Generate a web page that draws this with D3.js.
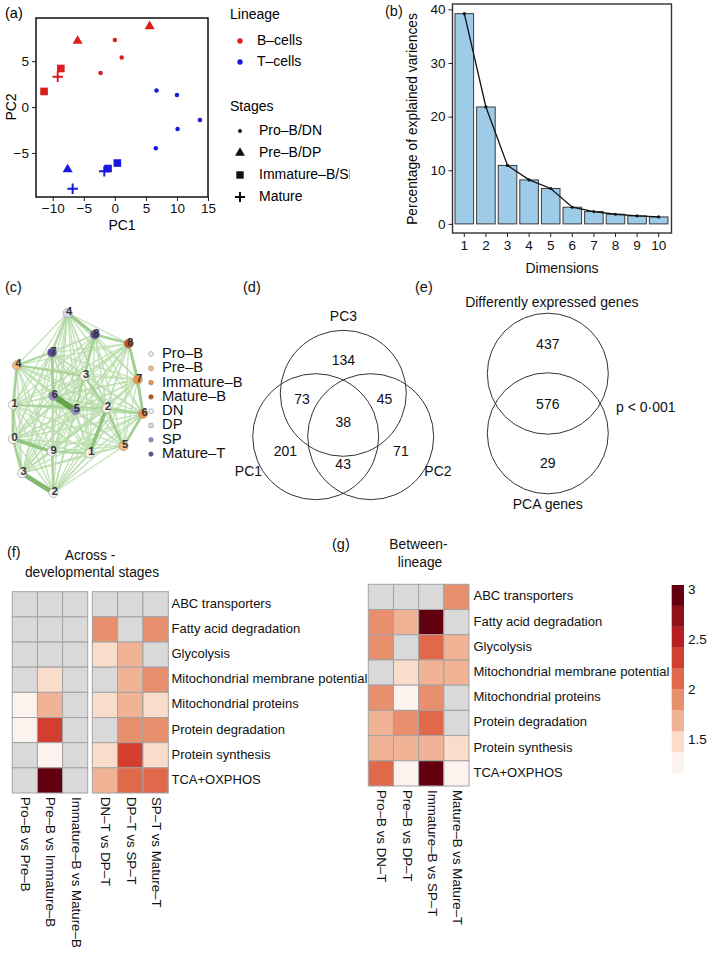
<!DOCTYPE html>
<html lang="en">
<head>
<meta charset="UTF-8">
<title>PCA, network, Venn diagrams and pathway heatmaps</title>
<script src="https://d3js.org/d3.v7.min.js"></script>
<style>
  body { margin: 0; background: #fff; }
  svg { display: block; font-family: "Liberation Sans", Arial, sans-serif; }
</style>
</head>
<body>
<svg id="fig" width="709" height="953"></svg>
<script>
// ---------- data ----------
// (a) PCA scores of the 18 samples
const pc1 = [-6.0, 5.6, 0.0, 1.1, -2.3, -8.7, -9.2, -11.4, 6.7, 10.0, 13.7, 10.1, 6.6, 0.4, -1.1, -1.7, -7.6, -6.8];
const pc2 = [7.2, 8.8, 7.3, 5.4, 3.7, 4.2, 3.3, 1.7, 1.8, 1.3, -1.4, -2.4, -4.5, -6.1, -6.7, -7.0, -6.8, -8.9];
const sampleLineage = ["B", "B", "B", "B", "B", "B", "B", "B", "T", "T", "T", "T", "T", "T", "T", "T", "T", "T"];
const sampleStage = ["Pre", "Pre", "Pro", "Pro", "Pro", "Imm", "Mat", "Imm", "Pro", "Pro", "Pro", "Pro", "Pro", "Imm", "Imm", "Mat", "Pre", "Mat"];
const pcaXTicks = [-10, -5, 0, 5, 10, 15];
const pcaYTicks = [-5, 0, 5];
const lineageNames = ["B–cells", "T–cells"];
const stageKeys = ["Pro", "Pre", "Imm", "Mat"];
const stageNames = ["Pro–B/DN", "Pre–B/DP", "Immature–B/SP", "Mature"];

// (b) scree plot
const dims = ["1", "2", "3", "4", "5", "6", "7", "8", "9", "10"];
const explained = [39.2, 21.8, 10.9, 8.2, 6.6, 3.1, 2.3, 1.8, 1.5, 1.3];
const screeTicks = [0, 10, 20, 30, 40];

// (c) correlation network (layout coordinates in 0..1)
const netLabel = ["4", "8", "8", "7", "4", "3", "7", "1", "6", "5", "2", "6", "0", "9", "1", "5", "3", "2"];
const netGroup = ["DP", "Mature–T", "Mature–B", "Mature–T", "Pre–B", "Pro–B", "Immature–B", "DN", "SP", "SP", "Pro–B", "Immature–B", "DN", "DN", "Pro–B", "Pre–B", "DN", "DN"];
const netX = [0.42, 0.63, 0.89, 0.30, 0.03, 0.55, 0.96, 0.00, 0.31, 0.48, 0.72, 1.00, 0.00, 0.30, 0.59, 0.85, 0.07, 0.31];
const netY = [0.00, 0.12, 0.17, 0.22, 0.29, 0.35, 0.37, 0.51, 0.46, 0.54, 0.53, 0.56, 0.70, 0.77, 0.78, 0.74, 0.89, 1.00];
const strongEdges = [
  [8, 9, 1.0], [16, 17, 0.75], [12, 13, 0.55], [10, 14, 0.55], [0, 1, 0.45],
  [1, 2, 0.35], [2, 6, 0.4], [6, 11, 0.4], [11, 15, 0.4], [15, 10, 0.35],
  [5, 10, 0.35], [3, 8, 0.35], [4, 7, 0.35], [7, 12, 0.4], [12, 16, 0.4],
  [13, 14, 0.3], [13, 17, 0.3], [4, 5, 0.3], [7, 10, 0.3], [1, 5, 0.3],
  [10, 11, 0.3], [1, 9, 0.3], [0, 3, 0.25], [3, 4, 0.25], [14, 17, 0.2]
];
const weakEdgeWeight = 0.12;
const netGroups = ["Pro–B", "Pre–B", "Immature–B", "Mature–B", "DN", "DP", "SP", "Mature–T"];
const netColors = ["#f6efe2", "#f3bb80", "#ec9443", "#c64f1c", "#f4f3f8", "#d8d7ea", "#8f8bc2", "#574a9b"];

// (d) Venn of PCA genes
const vennSets = ["PC1", "PC2", "PC3"];
const vennOnly = [201, 71, 134];
const vennPairs = [["PC1", "PC2", 43], ["PC1", "PC3", 73], ["PC2", "PC3", 45]];
const vennAll = 38;

// (e) Venn DE vs PCA genes
const deSets = ["Differently expressed genes", "PCA genes"];
const deCounts = [437, 576, 29];
const dePvalue = "p < 0·001";

// (f), (g) pathway heatmaps
const pathways = ["ABC transporters", "Fatty acid degradation", "Glycolysis", "Mitochondrial membrane potential",
  "Mitochondrial proteins", "Protein degradation", "Protein synthesis", "TCA+OXPHOS"];
const acrossBCols = ["Pro–B vs Pre–B", "Pre–B vs Immature–B", "Immature–B vs Mature–B"];
const acrossTCols = ["DN–T vs DP–T", "DP–T vs SP–T", "SP–T vs Mature–T"];
const betweenCols = ["Pro–B vs DN–T", "Pre–B vs DP–T", "Immature–B vs SP–T", "Mature–B vs Mature–T"];
const acrossBValues = [
  [null, null, null], [null, null, null], [null, null, null], [null, 1.48, null],
  [1.27, 1.70, null], [1.28, 2.33, null], [null, 1.26, null], [null, 2.98, null]
];
const acrossTValues = [
  [null, null, null], [1.92, null, 1.90], [1.49, 1.71, null], [null, 1.70, 1.93],
  [1.47, 1.69, 1.46], [null, 1.91, 1.89], [1.49, 2.34, 1.47], [1.72, 2.13, 2.12]
];
const betweenValues = [
  [null, null, null, 1.92], [1.91, 1.69, 2.97, null], [1.93, null, 2.14, 1.70], [null, 1.48, 1.71, 1.72],
  [1.90, 1.25, 1.91, null], [1.71, 1.92, 2.13, null], [1.70, 1.69, 1.71, 1.49], [2.12, 1.26, 2.99, 1.27]
];
const heatRange = [1.174, 3.057];
const heatColors = ["#fdf3ee", "#fadcca", "#f1b396", "#e88f6d", "#e0694c", "#d23f2e", "#b71e22", "#911016", "#620010"];
const heatTicks = [1.5, 2, 2.5, 3];
const naColor = "#d9d9d9";

// ---------- drawing ----------
const svg = d3.select("#fig");
svg.append("rect").attr("width", 709).attr("height", 953).attr("fill", "#fff");

function label(txt, x, y, size, anchor) {
  return svg.append("text").attr("x", x).attr("y", y).attr("font-size", size)
    .attr("text-anchor", anchor || "start").attr("dominant-baseline", "middle").attr("fill", "#111").text(txt);
}
function styleAxis(g, size) {
  g.attr("font-size", size).attr("font-family", null);
  g.select(".domain").remove();
  g.selectAll("line").attr("stroke", "#222");
  g.selectAll("text").attr("fill", "#111");
}

// ----- (a) -----
svg.append("clipPath").attr("id", "clipA").append("rect").attr("x", 0).attr("y", 0).attr("width", 350).attr("height", 250);
const gA = svg.append("g").attr("clip-path", "url(#clipA)");
const xA = d3.scaleLinear().domain([-12.7, 15.0]).range([36, 208]);
const yA = d3.scaleLinear().domain([-9.8, 9.7]).range([197, 18]);
const lineageColor = d3.scaleOrdinal().domain(["B", "T"]).range(["#dd1c1c", "#1818e2"]);
const plusType = {
  draw(ctx, size) {
    const r = Math.sqrt(size) / 2;
    ctx.moveTo(-r, 0); ctx.lineTo(r, 0);
    ctx.moveTo(0, -r); ctx.lineTo(0, r);
  }
};
const stageShape = d3.scaleOrdinal().domain(stageKeys).range([d3.symbolCircle, d3.symbolTriangle, d3.symbolSquare, plusType]);
const stageSize = d3.scaleOrdinal().domain(stageKeys).range([16, 44, 58, 110]);

gA.append("text").attr("x", 5).attr("y", 14).attr("font-size", 14.5).attr("dominant-baseline", "middle").text("(a)");
gA.append("g").attr("transform", "translate(0,197)")
  .call(d3.axisBottom(xA).tickValues(pcaXTicks).tickSize(4).tickPadding(2))
  .call(g => styleAxis(g, 13.5));
gA.append("g").attr("transform", "translate(36,0)")
  .call(d3.axisLeft(yA).tickValues(pcaYTicks).tickSize(4).tickPadding(3))
  .call(g => styleAxis(g, 13.5));
gA.append("rect").attr("x", 36).attr("y", 18).attr("width", 172).attr("height", 179)
  .attr("fill", "none").attr("stroke", "#111").attr("stroke-width", 1.5);
gA.append("text").attr("transform", "translate(12,107) rotate(-90)").attr("text-anchor", "middle")
  .attr("dominant-baseline", "middle").attr("font-size", 14).text("PC2");
gA.append("text").attr("x", 122).attr("y", 226).attr("text-anchor", "middle")
  .attr("dominant-baseline", "middle").attr("font-size", 14).text("PC1");

gA.selectAll("path.pt").data(pc1.map((v, i) => i)).join("path").attr("class", "pt")
  .attr("transform", i => `translate(${xA(pc1[i])},${yA(pc2[i])})`)
  .attr("d", i => d3.symbol().type(stageShape(sampleStage[i])).size(stageSize(sampleStage[i]))())
  .attr("fill", i => sampleStage[i] === "Mat" ? "none" : lineageColor(sampleLineage[i]))
  .attr("stroke", i => sampleStage[i] === "Mat" ? lineageColor(sampleLineage[i]) : "none")
  .attr("stroke-width", 2);

// legend (a)
gA.append("text").attr("x", 230).attr("y", 15).attr("font-size", 14).attr("dominant-baseline", "middle").text("Lineage");
["B", "T"].forEach((k, i) => {
  const y = 41 + i * 21;
  gA.append("circle").attr("cx", 240).attr("cy", y).attr("r", 2.7).attr("fill", lineageColor(k));
  gA.append("text").attr("x", 257).attr("y", y).attr("font-size", 14).attr("dominant-baseline", "middle").text(lineageNames[i]);
});
gA.append("text").attr("x", 230).attr("y", 107).attr("font-size", 14).attr("dominant-baseline", "middle").text("Stages");
stageKeys.forEach((k, i) => {
  const y = 131 + i * 22;
  gA.append("path").attr("transform", `translate(240,${y})`)
    .attr("d", d3.symbol().type(stageShape(k)).size(k === "Pro" ? 12 : stageSize(k) * 0.95)())
    .attr("fill", k === "Mat" ? "none" : "#111").attr("stroke", k === "Mat" ? "#111" : "none").attr("stroke-width", 2);
  gA.append("text").attr("x", 259).attr("y", y).attr("font-size", 14).attr("dominant-baseline", "middle").text(stageNames[i]);
});

// ----- (b) -----
label("(b)", 385, 12, 14.5);
const xB = d3.scaleBand().domain(dims).range([452, 671]).padding(0.14);
const yB = d3.scaleLinear().domain([-1.7, 41]).range([233, 4]);
svg.append("g").selectAll("rect").data(dims).join("rect")
  .attr("x", d => xB(d)).attr("width", xB.bandwidth())
  .attr("y", (d, i) => yB(explained[i])).attr("height", (d, i) => yB(0) - yB(explained[i]))
  .attr("fill", "#9ecbe8").attr("stroke", "#3a3a3a").attr("stroke-width", 1);
const screeLine = d3.line().x((v, i) => xB(dims[i]) + xB.bandwidth() / 2).y(v => yB(v));
svg.append("path").attr("d", screeLine(explained)).attr("fill", "none").attr("stroke", "#111").attr("stroke-width", 1.3);
svg.append("g").selectAll("circle").data(explained).join("circle")
  .attr("cx", (v, i) => xB(dims[i]) + xB.bandwidth() / 2).attr("cy", v => yB(v)).attr("r", 1.6).attr("fill", "#111");
svg.append("rect").attr("x", 452.5).attr("y", 4).attr("width", 219).attr("height", 229)
  .attr("fill", "none").attr("stroke", "#333").attr("stroke-width", 1.4);
svg.append("g").attr("transform", "translate(0,233)")
  .call(d3.axisBottom(xB).tickSize(4).tickPadding(3)).call(g => styleAxis(g, 13.5));
svg.append("g").attr("transform", "translate(452.5,0)")
  .call(d3.axisLeft(yB).tickValues(screeTicks).tickSize(4).tickPadding(3)).call(g => styleAxis(g, 13.5));
svg.append("text").attr("transform", "translate(413,119) rotate(-90)").attr("text-anchor", "middle")
  .attr("dominant-baseline", "middle").attr("font-size", 13.8).text("Percentage of explained variences");
label("Dimensions", 562, 269, 14, "middle");

// ----- (c) -----
label("(c)", 5, 288, 14.5);
const xC = d3.scaleLinear().domain([0, 1]).range([13, 143]);
const yC = d3.scaleLinear().domain([0, 1]).range([313, 493]);
const groupColor = d3.scaleOrdinal().domain(netGroups).range(netColors);
const edgeW = new Map(strongEdges.map(e => [Math.min(e[0], e[1]) + "-" + Math.max(e[0], e[1]), e[2]]));
const edges = [];
for (let a = 0; a < netLabel.length; a++) {
  for (let b = a + 1; b < netLabel.length; b++) {
    edges.push({ a, b, w: edgeW.has(a + "-" + b) ? edgeW.get(a + "-" + b) : weakEdgeWeight });
  }
}
edges.sort((p, q) => p.w - q.w);
const edgeColor = d3.scaleLinear().domain([0, 1]).range(["#c6e6ba", "#5a9f3c"]);
const edgeWidth = d3.scaleLinear().domain([0, 1]).range([0.7, 6]);
svg.append("g").selectAll("line").data(edges).join("line")
  .attr("x1", d => xC(netX[d.a])).attr("y1", d => yC(netY[d.a]))
  .attr("x2", d => xC(netX[d.b])).attr("y2", d => yC(netY[d.b]))
  .attr("stroke", d => edgeColor(d.w)).attr("stroke-width", d => edgeWidth(d.w))
  .attr("stroke-opacity", d => d.w > weakEdgeWeight ? 0.9 : 0.85);
const nodeG = svg.append("g").selectAll("g").data(netLabel).join("g")
  .attr("transform", (d, i) => `translate(${xC(netX[i])},${yC(netY[i])})`);
nodeG.append("circle").attr("r", 4.6).attr("fill", (d, i) => groupColor(netGroup[i]))
  .attr("stroke", "#9a9a9a").attr("stroke-width", 0.6);
nodeG.append("text").attr("x", 1.5).attr("y", -1).attr("text-anchor", "middle").attr("dominant-baseline", "middle")
  .attr("font-size", 11).attr("font-weight", "bold").attr("fill", "#333").text(d => d);
netGroups.forEach((g, i) => {
  const y = 354 + i * 14.3;
  svg.append("circle").attr("cx", 151).attr("cy", y).attr("r", 2.4).attr("fill", groupColor(g))
    .attr("stroke", "#888").attr("stroke-width", 0.6);
  label(g, 162, y, 14.8);
});

// ----- (d) -----
label("(d)", 243, 288, 14.5);
const rV = 63;
const vennCenter = { PC3: [343.3, 393.3], PC1: [315.7, 436.7], PC2: [370.7, 436.7] };
const gx = d3.mean(vennSets, s => vennCenter[s][0]);
const gy = d3.mean(vennSets, s => vennCenter[s][1]);
vennSets.forEach((s, i) => {
  const [cx, cy] = vennCenter[s];
  svg.append("circle").attr("cx", cx).attr("cy", cy).attr("r", rV).attr("fill", "none").attr("stroke", "#333").attr("stroke-width", 1);
  const dx = cx - gx, dy = cy - gy, len = Math.hypot(dx, dy);
  label(vennOnly[i], gx + dx * 2.1, gy + dy * 2.1, 14, "middle");
  label(s, cx + dx / len * (rV + 13), cy + dy / len * (rV + 13), 14, "middle");
});
vennPairs.forEach(([s1, s2, n]) => {
  const mx = (vennCenter[s1][0] + vennCenter[s2][0]) / 2, my = (vennCenter[s1][1] + vennCenter[s2][1]) / 2;
  label(n, gx + (mx - gx) * 3.0, gy + (my - gy) * 3.0, 14, "middle");
});
label(vennAll, gx, gy + 1, 14, "middle");

// ----- (e) -----
label("(e)", 415, 288, 14.5);
const deTop = [547.8, 373.7], deBot = [547.8, 433.3], rE = 60.5;
[deTop, deBot].forEach(c => svg.append("circle").attr("cx", c[0]).attr("cy", c[1]).attr("r", rE)
  .attr("fill", "none").attr("stroke", "#333").attr("stroke-width", 1));
label(deSets[0], deTop[0] + 4, deTop[1] - rE - 10, 14, "middle");
label(deSets[1], deBot[0], deBot[1] + rE + 11, 14, "middle");
label(deCounts[0], deTop[0], deTop[1] - 28, 14, "middle");
label(deCounts[1], deTop[0], (deTop[1] + deBot[1]) / 2 + 2, 14, "middle");
label(deCounts[2], deBot[0], deBot[1] + 31, 14, "middle");
label(dePvalue, 616, 408, 14);

// ----- (f), (g) heatmaps -----
const heatColor = d3.scaleQuantize().domain(heatRange).range(heatColors);
function heatmap(cols, vals, xr, yr, labelY) {
  const x = d3.scaleBand().domain(cols).range(xr);
  const y = d3.scaleBand().domain(pathways).range(yr);
  const cells = [];
  pathways.forEach((p, i) => cols.forEach((c, j) => cells.push({ p, c, v: vals[i][j] })));
  svg.append("g").selectAll("rect").data(cells).join("rect")
    .attr("x", d => x(d.c)).attr("y", d => y(d.p)).attr("width", x.bandwidth()).attr("height", y.bandwidth())
    .attr("fill", d => d.v == null ? naColor : heatColor(d.v)).attr("stroke", "#a3a3a3").attr("stroke-width", 1);
  svg.append("g").selectAll("text").data(cols).join("text")
    .attr("transform", c => `translate(${x(c) + x.bandwidth() / 2},${labelY}) rotate(90)`)
    .attr("dominant-baseline", "middle").attr("font-size", 13.3).attr("fill", "#111").text(c => c);
  return y;
}
label("(f)", 7, 553, 14.5);
label("Across -", 90, 556, 13.8, "middle");
label("developmental stages", 92, 573, 13.8, "middle");
heatmap(acrossBCols, acrossBValues, [12.3, 87.7], [591.7, 793], 797);
const yF = heatmap(acrossTCols, acrossTValues, [92.3, 168.3], [591.7, 793], 797);
pathways.forEach(p => label(p, 171.5, yF(p) + yF.bandwidth() / 2, 13));

label("(g)", 332, 545, 14.5);
label("Between-", 418.5, 545, 13.8, "middle");
label("lineage", 420, 563, 13.8, "middle");
const yG = heatmap(betweenCols, betweenValues, [368.3, 469], [584.3, 786], 790);
pathways.forEach(p => label(p, 473.5, yG(p) + yG.bandwidth() / 2, 13));

// colour key
const yKey = d3.scaleLinear().domain(heatRange).range([773.3, 585]);
const keyStep = (heatRange[1] - heatRange[0]) / heatColors.length;
svg.append("g").selectAll("rect").data(heatColors).join("rect")
  .attr("x", 671.7).attr("width", 12.3)
  .attr("y", (c, i) => yKey(heatRange[0] + keyStep * (i + 1)))
  .attr("height", (c, i) => yKey(heatRange[0] + keyStep * i) - yKey(heatRange[0] + keyStep * (i + 1)))
  .attr("fill", c => c);
heatTicks.forEach(t => label(t, 688, yKey(t), 13.5));
</script>
</body>
</html>
